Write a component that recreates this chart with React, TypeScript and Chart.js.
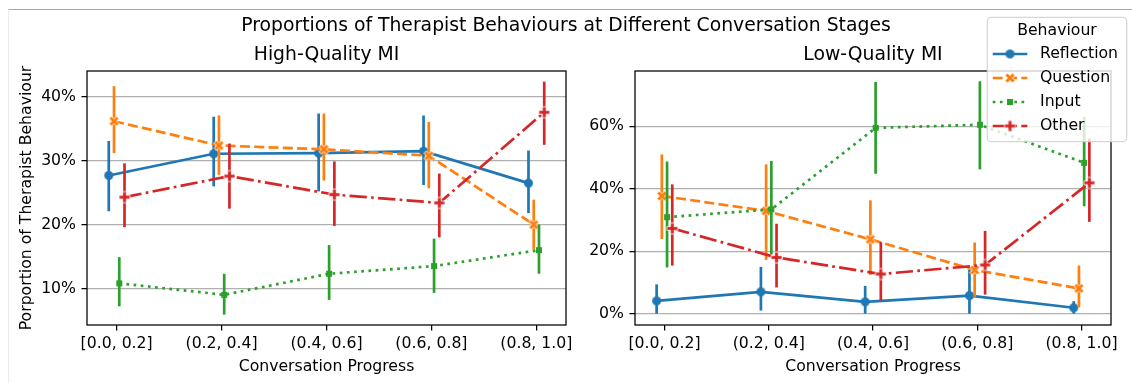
import React, { useEffect, useRef } from 'react';
import { Chart, registerables } from 'chart.js';

Chart.register(...registerables);

// ---------------- data ----------------
const categories = ['[0.0, 0.2]', '(0.2, 0.4]', '(0.4, 0.6]', '(0.6, 0.8]', '(0.8, 1.0]'];
const behaviours = ['Reflection', 'Question', 'Input', 'Other'];
const dodgeOffsets = [-0.075, -0.025, 0.025, 0.075];

// High-Quality MI (percent)
const hqReflection = [27.7, 31.1, 31.2, 31.5, 26.5];
const hqReflectionLow = [22.1, 26.0, 25.2, 26.2, 21.8];
const hqReflectionHigh = [33.1, 36.9, 37.4, 37.1, 31.6];
const hqQuestion = [36.2, 32.4, 31.8, 30.8, 20.0];
const hqQuestionLow = [31.2, 27.8, 26.9, 25.7, 16.1];
const hqQuestionHigh = [41.7, 37.1, 37.4, 36.1, 23.9];
const hqInput = [10.8, 9.0, 12.3, 13.5, 16.0];
const hqInputLow = [7.2, 5.9, 8.2, 9.3, 12.3];
const hqInputHigh = [14.9, 12.3, 16.8, 17.8, 20.0];
const hqOther = [24.3, 27.6, 24.7, 23.4, 37.6];
const hqOtherLow = [19.6, 22.5, 19.8, 18.0, 32.5];
const hqOtherHigh = [29.6, 32.7, 29.9, 28.0, 42.4];

// Low-Quality MI (percent)
const lqReflection = [4.1, 7.0, 3.8, 5.8, 1.9];
const lqReflectionLow = [0.0, 1.0, 0.0, 0.0, 0.0];
const lqReflectionHigh = [9.4, 15.0, 8.9, 14.0, 4.0];
const lqQuestion = [37.7, 32.9, 23.8, 14.0, 8.1];
const lqQuestionLow = [23.9, 17.2, 12.4, 5.4, 2.0];
const lqQuestionHigh = [51.0, 47.8, 36.3, 22.8, 15.4];
const lqInput = [30.9, 33.4, 59.5, 60.5, 48.3];
const lqInputLow = [14.8, 19.0, 44.8, 46.2, 34.4];
const lqInputHigh = [48.7, 48.9, 74.2, 74.4, 63.0];
const lqOther = [27.3, 18.0, 12.7, 15.6, 41.9];
const lqOtherLow = [15.4, 8.4, 4.2, 6.1, 29.4];
const lqOtherHigh = [41.4, 28.8, 22.9, 26.5, 56.1];

const hqYTicks = [10, 20, 30, 40];
const lqYTicks = [0, 20, 40, 60];
const hqYRange = [4.27, 44.07];
const lqYRange = [-3.62, 77.7];
const xRange = [-0.2825, 4.2825];

const suptitle = 'Proportions of Therapist Behaviours at Different Conversation Stages';
const hqTitle = 'High-Quality MI';
const lqTitle = 'Low-Quality MI';
const xLabel = 'Conversation Progress';
const yLabel = 'Porportion of Therapist Behaviour';
const legendTitle = 'Behaviour';

// ---------------- styles ----------------
const FONT = 'DejaVu Sans';
const colors = ['#1f77b4', '#ff7f0e', '#2ca02c', '#d62728'];
const dashes: number[][] = [[], [10, 4.3], [2.7, 4.5], [17.3, 4.3, 2.7, 4.3]];
const markerShapes = ['circle', 'X', 'square', 'P'];
const markerSizes = [9, 10, 6, 11];
const LW = 2.7;

const X_PTS = [[-1, -2], [0, -1], [1, -2], [2, -1], [1, 0], [2, 1], [1, 2], [0, 1], [-1, 2], [-2, 1], [-1, 0], [-2, -1]];
const P_PTS = [[-1, -3], [1, -3], [1, -1], [3, -1], [3, 1], [1, 1], [1, 3], [-1, 3], [-1, 1], [-3, 1], [-3, -1], [-1, -1]];

function makeMarker(shape: string, color: string, size: number): HTMLCanvasElement {
  const pad = 2;
  const dim = Math.ceil(size + pad * 2);
  const c = document.createElement('canvas');
  c.width = dim;
  c.height = dim;
  const ctx = c.getContext('2d')!;
  ctx.translate(dim / 2, dim / 2);
  ctx.fillStyle = color;
  ctx.strokeStyle = '#ffffff';
  ctx.lineWidth = 0.8;
  ctx.beginPath();
  if (shape === 'circle') {
    ctx.arc(0, 0, size / 2, 0, Math.PI * 2);
    ctx.fill();
  } else if (shape === 'square') {
    ctx.rect(-size / 2, -size / 2, size, size);
    ctx.fill();
  } else {
    const pts = shape === 'X' ? X_PTS : P_PTS;
    const div = shape === 'X' ? 4 : 6;
    pts.forEach((p, i) => {
      const px = (p[0] / div) * size;
      const py = (p[1] / div) * size;
      if (i === 0) ctx.moveTo(px, py);
      else ctx.lineTo(px, py);
    });
    ctx.closePath();
    ctx.fill();
    ctx.stroke();
  }
  return c;
}

const errorBarPlugin = {
  id: 'errorBars',
  beforeDatasetDraw(chart: any, args: any) {
    const ds: any = chart.data.datasets[args.index];
    const meta = args.meta;
    const ys = chart.scales.y;
    const ctx = chart.ctx;
    ctx.save();
    ctx.strokeStyle = ds.borderColor;
    ctx.lineWidth = LW;
    ctx.lineCap = 'butt';
    ctx.setLineDash([]);
    meta.data.forEach((pt: any, i: number) => {
      ctx.beginPath();
      ctx.moveTo(pt.x, ys.getPixelForValue(ds.errLow[i]));
      ctx.lineTo(pt.x, ys.getPixelForValue(ds.errHigh[i]));
      ctx.stroke();
    });
    ctx.restore();
  },
};

const framePlugin = {
  id: 'frame',
  afterDatasetsDraw(chart: any) {
    const { left, top, right, bottom } = chart.chartArea;
    const ctx = chart.ctx;
    ctx.save();
    ctx.strokeStyle = '#000';
    ctx.lineWidth = 1.26;
    ctx.strokeRect(left, top, right - left, bottom - top);
    ctx.restore();
  },
};

function makeLegendPlugin(markers: HTMLCanvasElement[]) {
  return {
    id: 'boxLegend',
    afterDraw(chart: any) {
      const ctx = chart.ctx;
      const bx = 407.3, by = 17.3, bw = 139.4, bh = 124.4, r = 4;
      ctx.save();
      ctx.beginPath();
      ctx.roundRect(bx, by, bw, bh, r);
      ctx.fillStyle = 'rgba(255,255,255,0.8)';
      ctx.fill();
      ctx.strokeStyle = 'rgba(204,204,204,0.8)';
      ctx.lineWidth = 1.26;
      ctx.stroke();
      ctx.fillStyle = '#000';
      ctx.font = `15.7px "${FONT}"`;
      ctx.textAlign = 'center';
      ctx.textBaseline = 'middle';
      ctx.fillText(legendTitle, bx + bw / 2, 31);
      behaviours.forEach((name, k) => {
        const y = 54 + 24 * k;
        ctx.strokeStyle = colors[k];
        ctx.lineWidth = LW;
        ctx.setLineDash(dashes[k]);
        ctx.beginPath();
        ctx.moveTo(412.7, y);
        ctx.lineTo(447.3, y);
        ctx.stroke();
        ctx.setLineDash([]);
        const m = markers[k];
        ctx.drawImage(m, 430 - m.width / 2, y - m.height / 2);
        ctx.fillStyle = '#000';
        ctx.textAlign = 'left';
        ctx.fillText(name, 460, y);
      });
      ctx.restore();
    },
  };
}

function buildConfig(p: {
  title: string;
  series: number[][];
  lows: number[][];
  highs: number[][];
  yRange: number[];
  yTicks: number[];
  yTitle: string | null;
  yWidth: number;
  padRight: number;
  markers: HTMLCanvasElement[];
}): any {
  const tickFont = { family: FONT, size: 15.7 };
  return {
    type: 'line',
    data: {
      datasets: behaviours.map((name, k) => ({
        label: name,
        data: p.series[k].map((v, i) => ({ x: i + dodgeOffsets[k], y: v })),
        borderColor: colors[k],
        backgroundColor: colors[k],
        borderWidth: LW,
        borderDash: dashes[k],
        pointStyle: p.markers[k],
        pointRadius: 4.5,
        tension: 0,
        order: 3 - k,
        errLow: p.lows[k],
        errHigh: p.highs[k],
      })),
    },
    options: {
      animation: false,
      responsive: false,
      devicePixelRatio: 1,
      events: [],
      layout: { padding: { left: 0, right: p.padRight, top: 0, bottom: 0 } },
      plugins: {
        legend: { display: false },
        tooltip: { enabled: false },
        title: {
          display: true,
          text: p.title,
          color: '#000',
          fullSize: false,
          font: { family: FONT, size: 18.8, weight: 'normal' },
          padding: { top: 43.7, bottom: 4.74 },
        },
      },
      scales: {
        x: {
          type: 'linear',
          min: xRange[0],
          max: xRange[1],
          afterBuildTicks: (s: any) => {
            s.ticks = categories.map((_, i) => ({ value: i }));
          },
          afterFit: (s: any) => {
            s.height = 58;
          },
          ticks: {
            callback: (v: any) => categories[Math.round(v)] ?? '',
            autoSkip: false,
            maxRotation: 0,
            minRotation: 0,
            padding: 4,
            color: '#000',
            font: tickFont,
          },
          grid: {
            drawOnChartArea: false,
            drawTicks: true,
            tickLength: 5.5,
            tickColor: '#000',
            lineWidth: 1.26,
          },
          border: { display: false },
          title: {
            display: true,
            text: xLabel,
            color: '#000',
            font: tickFont,
            padding: { top: 0, bottom: 6.9 },
          },
        },
        y: {
          type: 'linear',
          min: p.yRange[0],
          max: p.yRange[1],
          afterBuildTicks: (s: any) => {
            s.ticks = p.yTicks.map((v) => ({ value: v }));
          },
          afterFit: (s: any) => {
            s.width = p.yWidth;
          },
          ticks: {
            callback: (v: any) => `${v}%`,
            padding: 5.5,
            color: '#000',
            font: tickFont,
          },
          grid: {
            color: '#b0b0b0',
            lineWidth: 1.26,
            drawTicks: true,
            tickLength: 5.5,
            tickColor: '#000',
          },
          border: { display: false },
          title: {
            display: !!p.yTitle,
            text: p.yTitle || '',
            color: '#000',
            font: tickFont,
            padding: { top: 17.4, bottom: 0 },
          },
        },
      },
    },
  };
}

export default function App() {
  const leftRef = useRef<HTMLCanvasElement>(null);
  const rightRef = useRef<HTMLCanvasElement>(null);

  useEffect(() => {
    const markers = behaviours.map((_, k) => makeMarker(markerShapes[k], colors[k], markerSizes[k]));
    const leftCfg = buildConfig({
      title: hqTitle,
      series: [hqReflection, hqQuestion, hqInput, hqOther],
      lows: [hqReflectionLow, hqQuestionLow, hqInputLow, hqOtherLow],
      highs: [hqReflectionHigh, hqQuestionHigh, hqInputHigh, hqOtherHigh],
      yRange: hqYRange,
      yTicks: hqYTicks,
      yTitle: yLabel,
      yWidth: 87,
      padRight: 14,
      markers,
    });
    leftCfg.plugins = [errorBarPlugin, framePlugin];
    const rightCfg = buildConfig({
      title: lqTitle,
      series: [lqReflection, lqQuestion, lqInput, lqOther],
      lows: [lqReflectionLow, lqQuestionLow, lqInputLow, lqOtherLow],
      highs: [lqReflectionHigh, lqQuestionHigh, lqInputHigh, lqOtherHigh],
      yRange: lqYRange,
      yTicks: lqYTicks,
      yTitle: null,
      yWidth: 55,
      padRight: 21,
      markers,
    });
    rightCfg.plugins = [errorBarPlugin, framePlugin, makeLegendPlugin(markers)];
    const left = new Chart(leftRef.current!, leftCfg);
    const right = new Chart(rightRef.current!, rightCfg);
    return () => {
      left.destroy();
      right.destroy();
    };
  }, []);

  return (
    <div
      style={{
        position: 'absolute',
        left: 0,
        top: 0,
        width: 1132,
        height: 383,
        background: '#ffffff',
        overflow: 'hidden',
      }}
    >
      <div
        style={{
          position: 'absolute',
          left: 8,
          top: 9,
          right: 0,
          bottom: 0,
          borderTop: '1px solid #a8a8a8',
          borderLeft: '1px solid #ececec',
        }}
      />
      <canvas ref={leftRef} width={580} height={383} style={{ position: 'absolute', left: 0, top: 0 }} />
      <canvas ref={rightRef} width={552} height={383} style={{ position: 'absolute', left: 580, top: 0 }} />
      <div
        style={{
          position: 'absolute',
          left: 0,
          top: 13.5,
          width: 1132,
          textAlign: 'center',
          fontFamily: FONT,
          fontSize: '18.8px',
          lineHeight: '22px',
          color: '#000',
          whiteSpace: 'nowrap',
        }}
      >
        {suptitle}
      </div>
    </div>
  );
}
